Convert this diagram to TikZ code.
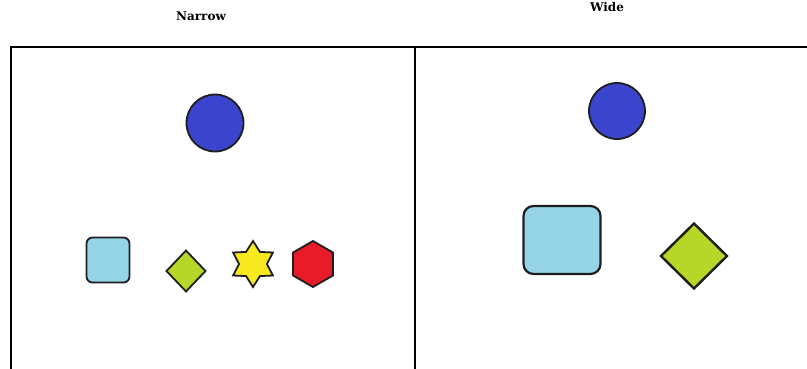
\documentclass[tikz,border=0pt]{standalone}
\usepackage{fontspec}
\newfontfamily\labelfont{DejaVu Serif}
\usetikzlibrary{shapes.geometric}
\definecolor{cblue}{RGB}{58,68,205}
\definecolor{lblue}{RGB}{148,212,230}
\definecolor{lgreen}{RGB}{182,214,40}
\definecolor{syellow}{RGB}{248,234,30}
\definecolor{hred}{RGB}{232,28,40}
\definecolor{edge}{RGB}{30,30,30}
\tikzset{
  shp/.style={draw=edge, line width=1.8pt, inner sep=0pt, outer sep=0pt},
  ball/.style={shp, circle, fill=cblue},
  sq/.style={shp, rectangle, fill=lblue},
  dia/.style={shp, diamond, fill=lgreen},
  frame/.style={line width=1.6pt, draw=black},
  ttl/.style={font=\labelfont\bfseries\fontsize{12}{14}\selectfont, text=black}
}
\begin{document}
\begin{tikzpicture}[x=1pt,y=-1pt]
\useasboundingbox (0,0) rectangle (807,368);
% frame
\coordinate (tl) at (11,47);
\coordinate (tr) at (808,47);
\coordinate (bl) at (11,369);
\coordinate (tm) at (415,47);
\coordinate (bm) at (415,369);
\draw[frame] (bl) -- (tl) -- (tr);
\draw[frame] (tm) -- (bm);
% titles
\node[ttl] (narrow) at (201,16) {Narrow};
\node[ttl] (wide) at (607,7) {Wide};
% left panel
\node[ball, minimum size=57pt] (c1) at (215,123) {};
\node[sq, rounded corners=6pt, minimum width=43pt, minimum height=45pt] (s1) at (108,260) {};
\node[dia, minimum width=39pt, minimum height=41pt] (d1) at (186,271) {};
\node[shp, star, star points=6, star point ratio=1.65, minimum size=46pt, fill=syellow] (st) at (253,264) {};
\node[shp, regular polygon, regular polygon sides=6, shape border rotate=30, minimum size=46pt, fill=hred] (hx) at (313,264) {};
% right panel
\node[ball, minimum size=56pt] (c2) at (617,111) {};
\node[sq, rounded corners=10pt, line width=2.2pt, minimum width=77pt, minimum height=68pt] (s2) at (562,240) {};
\node[dia, line width=2.4pt, fill=lgreen, minimum width=66pt, minimum height=65pt] (d2) at (694,256) {};
\end{tikzpicture}
\end{document}
